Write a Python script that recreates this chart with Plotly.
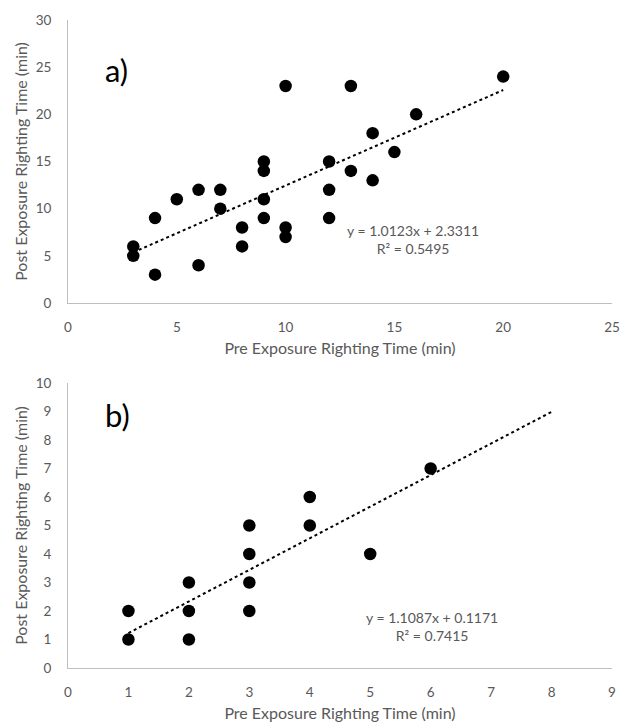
import plotly.graph_objects as go

# Panel a data
a_pre = [3, 3, 4, 4, 5, 6, 6, 7, 7, 8, 8, 9, 9, 9, 9, 10, 10, 10, 12, 12, 12, 13, 13, 14, 14, 15, 16, 20]
a_post = [6, 5, 9, 3, 11, 12, 4, 12, 10, 8, 6, 15, 14, 11, 9, 23, 8, 7, 15, 12, 9, 23, 14, 18, 13, 16, 20, 24]
a_slope, a_intercept, a_r2 = 1.0123, 2.3311, 0.5495
a_trend_x = [3, 20]

# Panel b data
b_pre = [1, 1, 2, 2, 2, 3, 3, 3, 3, 4, 4, 5, 6]
b_post = [2, 1, 3, 2, 1, 5, 4, 3, 2, 6, 5, 4, 7]
b_slope, b_intercept, b_r2 = 1.1087, 0.1171, 0.7415
b_trend_x = [1, 8]

FONT = "Lato"
GRAY = "#595959"
AX = "#bfbfbf"
W, H = 620, 724

fig = go.Figure()

def add_panel(xs, ys, slope, intercept, tx, xa, ya):
    fig.add_trace(go.Scatter(
        x=tx, y=[slope * v + intercept for v in tx], mode="lines",
        line=dict(color="black", width=2, dash="dot"),
        xaxis=xa, yaxis=ya, showlegend=False, hoverinfo="skip"))
    fig.add_trace(go.Scatter(
        x=xs, y=ys, mode="markers",
        marker=dict(color="black", size=12.5),
        xaxis=xa, yaxis=ya, showlegend=False))

add_panel(a_pre, a_post, a_slope, a_intercept, a_trend_x, "x", "y")
add_panel(b_pre, b_post, b_slope, b_intercept, b_trend_x, "x2", "y2")

common = dict(showgrid=False, zeroline=False, showline=True, linecolor=AX, linewidth=1,
              ticks="", tickfont=dict(family=FONT, size=13.5, color=GRAY),
              automargin=False)
title_font = dict(family=FONT, size=16, color=GRAY)
xdom = [68 / W, 612 / W]
fig.update_layout(
    width=W, height=H,
    margin=dict(l=0, r=0, t=0, b=0),
    paper_bgcolor="white", plot_bgcolor="white",
    xaxis=dict(domain=xdom, range=[0, 25], tick0=0, dtick=5, anchor="y", ticklabelstandoff=12,
               title=dict(text="Pre Exposure Righting Time (min)", font=title_font, standoff=8), **common),
    yaxis=dict(domain=[1 - 303 / H, 1 - 20 / H], range=[0, 30], tick0=0, dtick=5, anchor="x",
               ticklabelstandoff=13,
               title=dict(text="Post Exposure Righting Time (min)", font=title_font, standoff=4), **common),
    xaxis2=dict(domain=xdom, range=[0, 9], tick0=0, dtick=1, anchor="y2", ticklabelstandoff=12,
                title=dict(text="Pre Exposure Righting Time (min)", font=title_font, standoff=8), **common),
    yaxis2=dict(domain=[1 - 668 / H, 1 - 383 / H], range=[0, 10], tick0=0, dtick=1, anchor="x2",
                ticklabelstandoff=13,
                title=dict(text="Post Exposure Righting Time (min)", font=title_font, standoff=4), **common),
    annotations=[
        dict(x=1.6, y=24.7, xref="x", yref="y", text="a)", showarrow=False, xanchor="left",
             font=dict(family=FONT, size=31, color="black")),
        dict(x=0.58, y=8.88, xref="x2", yref="y2", text="b)", showarrow=False, xanchor="left",
             font=dict(family=FONT, size=31, color="black")),
        dict(x=15.86, y=6.7, xref="x", yref="y",
             text=f"y = {a_slope}x + {a_intercept}<br>R² = {a_r2}", showarrow=False,
             font=dict(family=FONT, size=14, color=GRAY), align="center"),
        dict(x=6.02, y=1.45, xref="x2", yref="y2",
             text=f"y = {b_slope}x + {b_intercept}<br>R² = {b_r2}", showarrow=False,
             font=dict(family=FONT, size=14, color=GRAY), align="center"),
    ],
)

fig.write_html(
    "out.html",
    config={"displayModeBar": False},
    post_script="document.body.style.margin='0';document.body.style.overflow='hidden';",
)
